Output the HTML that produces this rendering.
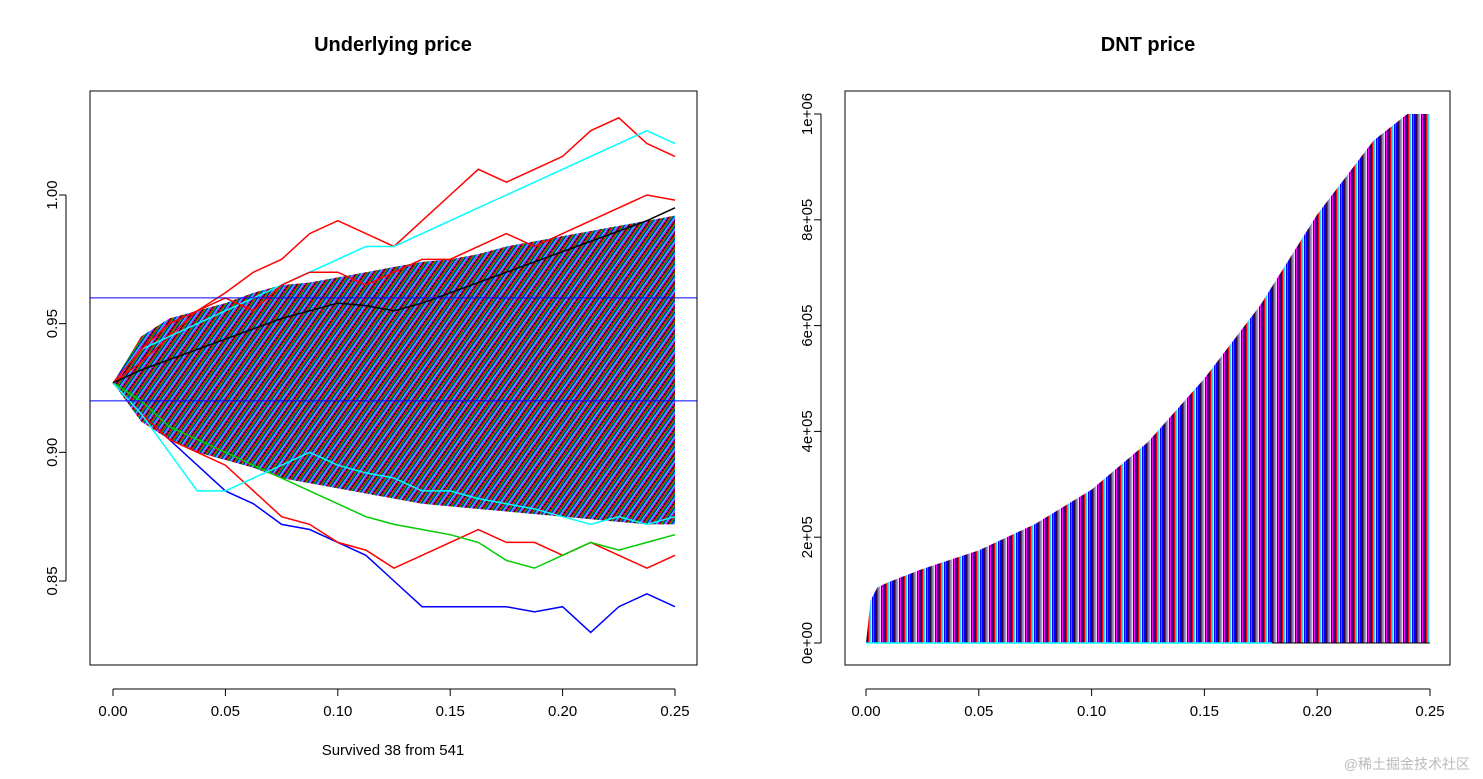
<!DOCTYPE html>
<html><head><meta charset="utf-8">
<style>
body{margin:0;background:#fff;width:1483px;height:779px;overflow:hidden;font-family:"Liberation Sans",sans-serif}
svg{display:block}
</style></head>
<body>
<svg id="c" width="1483" height="779" xmlns="http://www.w3.org/2000/svg">
<defs>
<pattern id="mixL" width="7" height="7" patternUnits="userSpaceOnUse" patternTransform="rotate(35)">
<rect width="7" height="7" fill="#000"/><rect x="1" width="1.2" height="7" fill="#f00"/><rect x="2.2" width="1.2" height="7" fill="#0c0"/><rect x="3.4" width="1.2" height="7" fill="#00f"/><rect x="4.6" width="1.2" height="7" fill="#0ff"/><rect x="5.8" width="1.2" height="7" fill="#f0f"/>
</pattern>
<pattern id="mixR" width="9" height="9" patternUnits="userSpaceOnUse">
<rect width="9" height="9" fill="#f0f"/><rect x="1" width="1.3" height="9" fill="#00f"/><rect x="2.5" width="1.3" height="9" fill="#000"/><rect x="4" width="1.3" height="9" fill="#f00"/><rect x="5.5" width="1.3" height="9" fill="#0ff"/><rect x="7" width="0.8" height="9" fill="#fff"/><rect x="8" width="1" height="9" fill="#00f"/>
</pattern>
</defs>
<g id="left"></g>
<g id="right"></g>
<text x="1470" y="769" font-size="14" fill="#bbb" text-anchor="end" font-family="Liberation Sans,Noto Sans CJK SC,sans-serif">@稀土掘金技术社区</text>
</svg>
<script>
// ---- Left chart data ----
const leftTimes = [0,0.0125,0.025,0.0375,0.05,0.0625,0.075,0.0875,0.1,0.1125,0.125,0.1375,0.15,0.1625,0.175,0.1875,0.2,0.2125,0.225,0.2375,0.25];
const bandUpper = [0.927,0.945,0.952,0.955,0.958,0.962,0.965,0.966,0.968,0.97,0.972,0.974,0.975,0.977,0.98,0.982,0.984,0.986,0.988,0.99,0.992];
const bandLower = [0.927,0.912,0.905,0.9,0.897,0.894,0.89,0.888,0.886,0.884,0.882,0.88,0.879,0.878,0.877,0.876,0.875,0.874,0.873,0.872,0.872];
const pathRedTop = [0.927,0.935,0.945,0.955,0.962,0.97,0.975,0.985,0.99,0.985,0.98,0.99,1.0,1.01,1.005,1.01,1.015,1.025,1.03,1.02,1.015];
const pathCyanTop = [0.927,0.94,0.945,0.95,0.955,0.96,0.965,0.97,0.975,0.98,0.98,0.985,0.99,0.995,1.0,1.005,1.01,1.015,1.02,1.025,1.02];
const pathBlueLow = [0.927,0.915,0.905,0.895,0.885,0.88,0.872,0.87,0.865,0.86,0.85,0.84,0.84,0.84,0.84,0.838,0.84,0.83,0.84,0.845,0.84];
const pathRedLow = [0.927,0.915,0.905,0.9,0.895,0.885,0.875,0.872,0.865,0.862,0.855,0.86,0.865,0.87,0.865,0.865,0.86,0.865,0.86,0.855,0.86];
const pathGreenLow = [0.927,0.92,0.91,0.905,0.9,0.895,0.89,0.885,0.88,0.875,0.872,0.87,0.868,0.865,0.858,0.855,0.86,0.865,0.862,0.865,0.868];
const pathCyanLow = [0.927,0.915,0.9,0.885,0.885,0.89,0.895,0.9,0.895,0.892,0.89,0.885,0.885,0.882,0.88,0.878,0.875,0.872,0.875,0.872,0.875];
const pathRedMid = [0.927,0.94,0.95,0.955,0.96,0.955,0.965,0.97,0.97,0.965,0.97,0.975,0.975,0.98,0.985,0.98,0.985,0.99,0.995,1.0,0.998];
const pathBlackMid = [0.927,0.932,0.936,0.94,0.944,0.948,0.952,0.955,0.958,0.957,0.955,0.958,0.962,0.966,0.97,0.974,0.978,0.982,0.986,0.99,0.995];
const leftXTicks = [0,0.05,0.1,0.15,0.2,0.25];
const leftXLabels = ["0.00","0.05","0.10","0.15","0.20","0.25"];
const leftYTicks = [0.85,0.9,0.95,1.0];
const leftYLabels = ["0.85","0.90","0.95","1.00"];
const barriers = [0.96,0.92];

// ---- Right chart data ----
const rightTimes = [0,0.002,0.005,0.01,0.025,0.05,0.075,0.1,0.125,0.15,0.175,0.2,0.225,0.24,0.25];
const dntUpper = [0,80000,105000,115000,140000,175000,225000,290000,380000,500000,640000,810000,950000,1000000,1000000];
const rightXTicks = [0,0.05,0.1,0.15,0.2,0.25];
const rightXLabels = ["0.00","0.05","0.10","0.15","0.20","0.25"];
const rightYTicks = [0,200000,400000,600000,800000,1000000];
const rightYLabels = ["0e+00","2e+05","4e+05","6e+05","8e+05","1e+06"];

const NS="http://www.w3.org/2000/svg";
function mk(parent,tag,attrs){const e=document.createElementNS(NS,tag);for(const k in attrs)e.setAttribute(k,attrs[k]);parent.appendChild(e);return e;}

const lx=t=>113+t*(675-113)/0.25;
const ly=v=>195+(1.0-v)*(581-195)/0.15;
const rx=t=>866+t*(1430-866)/0.25;
const ry=v=>643-v*(643-114)/1000000;

const L=document.getElementById('left'), R=document.getElementById('right');

let d="M"+leftTimes.map((t,i)=>lx(t)+","+ly(bandUpper[i])).join("L");
for(let i=leftTimes.length-1;i>=0;i--) d+="L"+lx(leftTimes[i])+","+ly(bandLower[i]);
let band=mk(L,'path',{d:d+"Z",fill:"url(#mixL)"});


const paths=[[pathRedTop,"#f00","path-red-top"],[pathCyanTop,"#0ff","path-cyan-top"],[pathBlueLow,"#00f","path-blue-low"],[pathRedLow,"#f00","path-red-low"],[pathGreenLow,"#0c0","path-green-low"],[pathCyanLow,"#0ff","path-cyan-low"],[pathRedMid,"#f00","path-red-mid"],[pathBlackMid,"#000","path-black-mid"]];
paths.forEach(p=>{
  const pl=mk(L,'polyline',{points:leftTimes.map((t,i)=>lx(t)+","+ly(p[0][i])).join(" "),fill:"none",stroke:p[1],"stroke-width":1.5});
  
  
});
barriers.forEach((b,i)=>{
  const ln=mk(L,'line',{x1:90,x2:697,y1:ly(b),y2:ly(b),stroke:"#00f","stroke-width":1});
  
  
});
function frame(G,x0,y0,x1,y1,name){const r=mk(G,'rect',{x:x0,y:y0,width:x1-x0,height:y1-y0,fill:"none",stroke:"#000"});}
frame(L,90,91,697,665,'left-plot-frame');
mk(L,'line',{x1:lx(0),x2:lx(0.25),y1:689,y2:689,stroke:"#000"});
leftXTicks.forEach((t,i)=>{mk(L,'line',{x1:lx(t),x2:lx(t),y1:689,y2:696,stroke:"#000"});
  const tx=mk(L,'text',{x:lx(t),y:716,"font-size":15,"text-anchor":"middle"});tx.textContent=leftXLabels[i];
  });
mk(L,'line',{x1:66,x2:66,y1:ly(0.85),y2:ly(1.0),stroke:"#000"});
leftYTicks.forEach((v,i)=>{mk(L,'line',{x1:59,x2:66,y1:ly(v),y2:ly(v),stroke:"#000"});
  const tx=mk(L,'text',{x:0,y:0,"font-size":15,"text-anchor":"middle",transform:`translate(57,${ly(v)}) rotate(-90)`});tx.textContent=leftYLabels[i];
  });
let t1=mk(L,'text',{x:393,y:51,"font-size":20,"font-weight":"bold","text-anchor":"middle"});t1.textContent="Underlying price";

let st=mk(L,'text',{x:393,y:755,"font-size":15,"text-anchor":"middle"});st.textContent="Survived 38 from 541";


let d2="M"+rx(0.002)+","+ry(0)+"L"+rightTimes.map((t,i)=>rx(t)+","+ry(dntUpper[i])).join("L")+"L"+rx(0.25)+","+ry(0)+"Z";
let rf=mk(R,'path',{d:d2,fill:"url(#mixR)"});


let z1=mk(R,'line',{x1:rx(0),x2:rx(0.18),y1:ry(0),y2:ry(0),stroke:"#0ff","stroke-width":1.5});

let z2=mk(R,'line',{x1:rx(0.18),x2:rx(0.25),y1:ry(0),y2:ry(0),stroke:"#000","stroke-width":1});

frame(R,845,91,1450,665,'right-plot-frame');
mk(R,'line',{x1:rx(0),x2:rx(0.25),y1:689,y2:689,stroke:"#000"});
rightXTicks.forEach((t,i)=>{mk(R,'line',{x1:rx(t),x2:rx(t),y1:689,y2:696,stroke:"#000"});
  const tx=mk(R,'text',{x:rx(t),y:716,"font-size":15,"text-anchor":"middle"});tx.textContent=rightXLabels[i];
  });
mk(R,'line',{x1:821,x2:821,y1:ry(0),y2:ry(1000000),stroke:"#000"});
rightYTicks.forEach((v,i)=>{mk(R,'line',{x1:814,x2:821,y1:ry(v),y2:ry(v),stroke:"#000"});
  const tx=mk(R,'text',{x:0,y:0,"font-size":15,"text-anchor":"middle",transform:`translate(812,${ry(v)}) rotate(-90)`});tx.textContent=rightYLabels[i];
  });
let t2=mk(R,'text',{x:1148,y:51,"font-size":20,"font-weight":"bold","text-anchor":"middle"});t2.textContent="DNT price";

</script>
</body></html>
